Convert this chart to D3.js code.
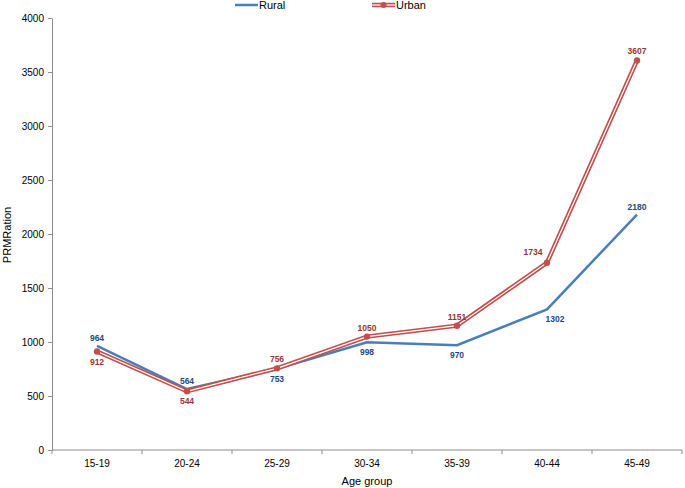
<!DOCTYPE html>
<html><head><meta charset="utf-8">
<script src="https://cdn.jsdelivr.net/npm/d3@7"></script>
<style>body{margin:0;background:#fff}svg{display:block}text{font-family:"Liberation Sans",Arial,Helvetica,sans-serif}</style>
</head><body>
<script>
const categories = ["15-19","20-24","25-29","30-34","35-39","40-44","45-49"];
const rural = [964,564,753,998,970,1302,2180];
const urban = [912,544,756,1050,1151,1734,3607];
const yTicks = [0,500,1000,1500,2000,2500,3000,3500,4000];
const ruralLabelPos = ["above","above","below","below","below","below","above"];
const urbanLabelPos = ["below","below","above","above","above","left","above"];

const W=685,H=488;
const svg=d3.select("body").append("svg").attr("width",W).attr("height",H);
const x=d3.scaleBand().domain(categories).range([52,682]);
const y=d3.scaleLinear().domain([0,4000]).range([450,18]);
const cx=d=>x(d)+x.bandwidth()/2;

// axes
const yAxis=svg.append("g").attr("transform","translate(52,0)")
  .call(d3.axisLeft(y).tickValues(yTicks).tickFormat(d3.format("d")).tickSize(4).tickSizeOuter(0).tickPadding(4));
yAxis.select(".domain").attr("stroke","#8c8c8c");
yAxis.selectAll(".tick line").attr("stroke","#8c8c8c");
yAxis.selectAll("text").attr("font-size",10).attr("fill","#000");

const xg=svg.append("g").attr("transform","translate(0,450)");
xg.append("line").attr("x1",52).attr("x2",682).attr("stroke","#8c8c8c");
const bounds=categories.map(c=>x(c)).concat([x.range()[1]]);
xg.selectAll("line.tk").data(bounds).join("line").attr("class","tk")
  .attr("x1",d=>d).attr("x2",d=>d).attr("y1",0).attr("y2",4).attr("stroke","#8c8c8c");
xg.selectAll("text").data(categories).join("text")
  .attr("x",d=>cx(d)).attr("y",17).attr("text-anchor","middle").attr("font-size",10).text(d=>d);

// axis titles
svg.append("text").attr("x",367).attr("y",485).attr("text-anchor","middle").attr("font-size",11).text("Age group");
svg.append("text").attr("transform","translate(11,235) rotate(-90)").attr("text-anchor","middle").attr("font-size",11).text("PRMRation");

const line=d3.line().x((d,i)=>cx(categories[i])).y(d=>y(d));

// rural
svg.append("path").datum(rural).attr("d",line).attr("fill","none").attr("stroke","#4a7ebb").attr("stroke-width",2.5);
// urban double line
svg.append("path").datum(urban).attr("d",line).attr("fill","none").attr("stroke","#c0504d").attr("stroke-width",4.5);
svg.append("path").datum(urban).attr("d",line).attr("fill","none").attr("stroke","#fff").attr("stroke-width",1.2);
svg.selectAll("circle.u").data(urban).join("circle").attr("class","u")
  .attr("cx",(d,i)=>cx(categories[i])).attr("cy",d=>y(d)).attr("r",3.2).attr("fill","#c0504d");

const dx={above:0,below:0,left:-14};
const dyR={above:-5,below:13};
const dyU={above:-6,below:13,left:-8};
// labels
svg.selectAll("text.rl").data(rural).join("text").attr("class","rl")
  .attr("x",(d,i)=>cx(categories[i])+(i===5?8:0)).attr("y",(d,i)=>y(d)+dyR[ruralLabelPos[i]])
  .attr("text-anchor","middle").attr("font-size",8.5).attr("font-weight","bold").attr("fill","#1f497d").text(d=>d);
svg.selectAll("text.ul").data(urban).join("text").attr("class","ul")
  .attr("x",(d,i)=>cx(categories[i])+dx[urbanLabelPos[i]]).attr("y",(d,i)=>y(d)+dyU[urbanLabelPos[i]])
  .attr("text-anchor","middle").attr("font-size",8.5).attr("font-weight","bold").attr("fill","#953735").text(d=>d);

// legend
const lg=svg.append("g");
lg.append("line").attr("x1",235).attr("x2",258).attr("y1",5).attr("y2",5).attr("stroke","#4a7ebb").attr("stroke-width",2.5);
lg.append("text").attr("x",259).attr("y",9).attr("font-size",11).text("Rural");
lg.append("line").attr("x1",372).attr("x2",395).attr("y1",5).attr("y2",5).attr("stroke","#c0504d").attr("stroke-width",4.5);
lg.append("line").attr("x1",372).attr("x2",395).attr("y1",5).attr("y2",5).attr("stroke","#fff").attr("stroke-width",1.2);
lg.append("circle").attr("cx",383.5).attr("cy",5).attr("r",3).attr("fill","#c0504d");
lg.append("text").attr("x",396).attr("y",9).attr("font-size",11).text("Urban");
</script>
</body></html>
